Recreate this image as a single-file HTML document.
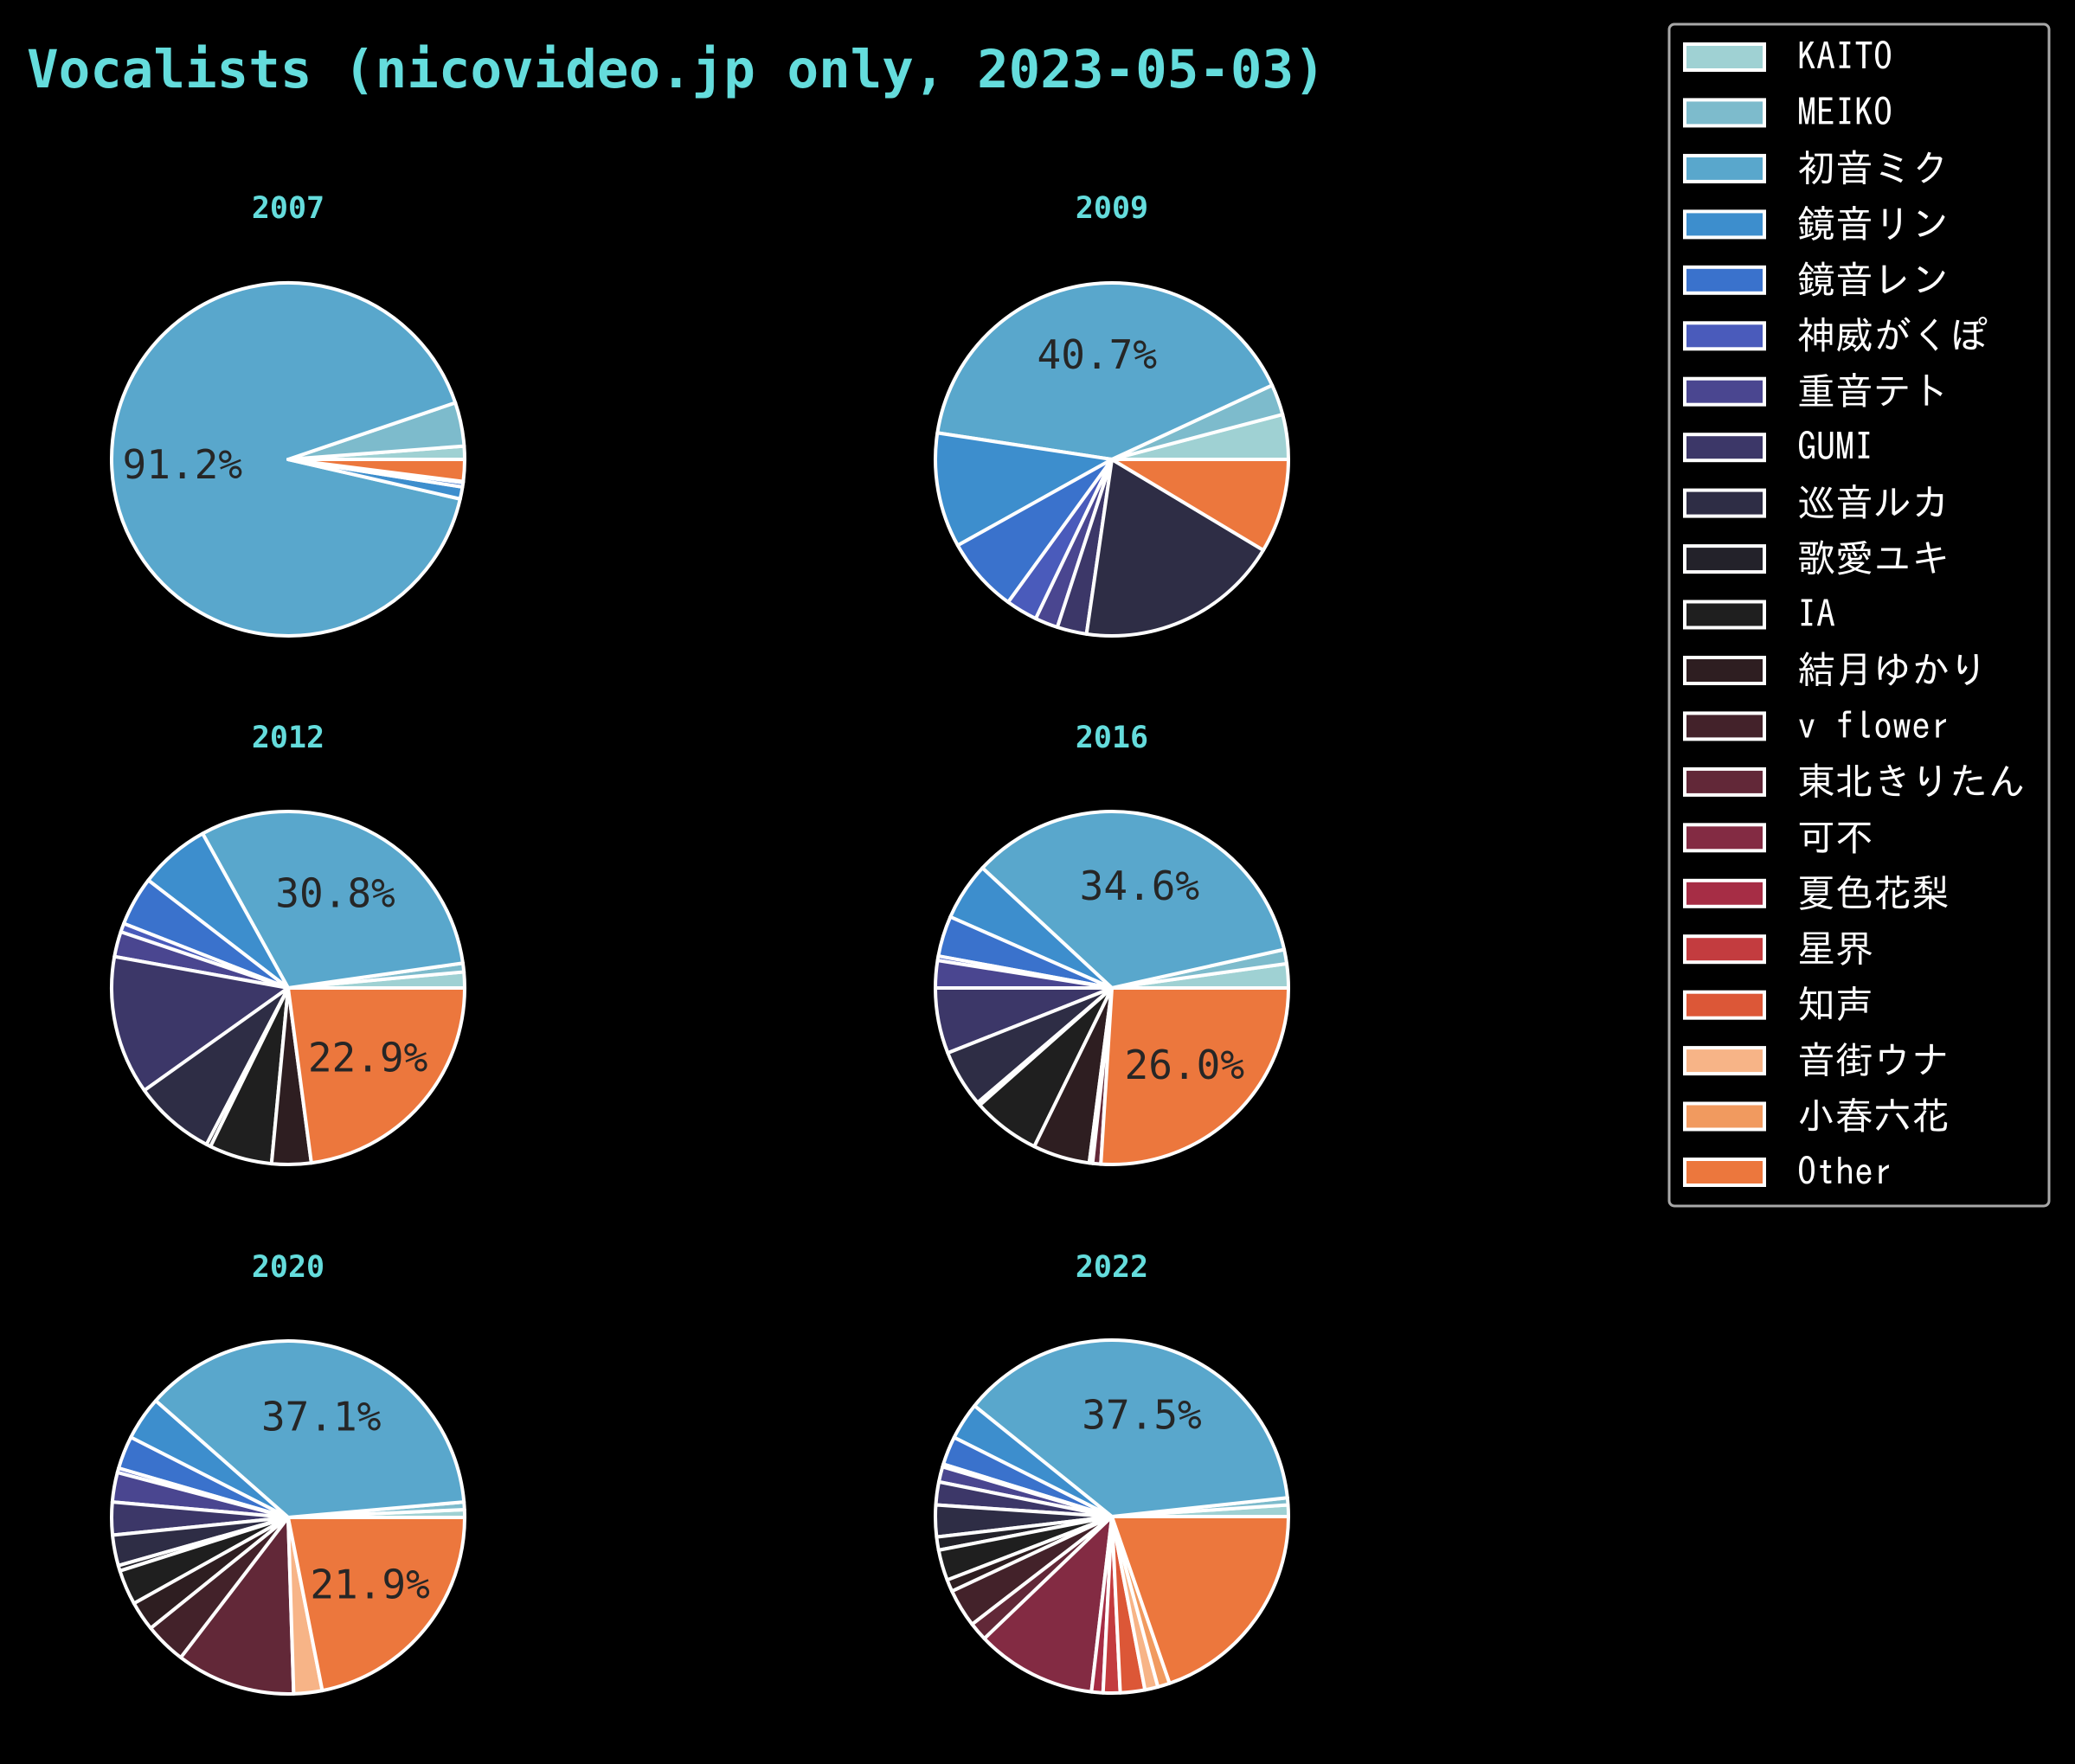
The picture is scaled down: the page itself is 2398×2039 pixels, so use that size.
<!DOCTYPE html>
<html><head><meta charset="utf-8">
<style>
html,body{margin:0;padding:0;background:#000;}
svg{display:block;}
</style></head>
<body>
<svg id="chart" xmlns="http://www.w3.org/2000/svg" width="2398" height="2039" viewBox="0 0 2398 2039">
<rect x="0" y="0" width="2398" height="2039" fill="#000"/>
<text x="31" y="101" font-family="DejaVu Sans Mono, Liberation Mono, monospace" font-weight="bold" font-size="60.8" fill="#64dcdc">Vocalists (nicovideo.jp only, 2023-05-03)</text>
<g id="pies"></g>
<g id="legend"></g>
</svg>
<script>
const vocalists = ["KAITO","MEIKO","初音ミク","鏡音リン","鏡音レン","神威がくぽ","重音テト","GUMI","巡音ルカ","歌愛ユキ","IA","結月ゆかり","v flower","東北きりたん","可不","夏色花梨","星界","知声","音街ウナ","小春六花","Other"];
const colors = ["#9fd1d3","#7dbbcc","#59a7cc","#3d8ecd","#3a72cc","#4a5bbb","#4a4690","#3c3768","#2e2d45","#23222a","#1f1f1f","#2e1e21","#43222a","#622838","#832b43","#a62d45","#c33c3f","#dc5737","#f7b487","#f19a5f","#ec773d"];
const years = ["2007","2009","2012","2016","2020","2022"];
const share2007 = [1.2,4.0,91.2,1.1,0.4,0.1,0,0,0,0,0,0,0,0,0,0,0,0,0,0,2.0];
const share2009 = [4.1,2.8,40.7,10.5,6.9,2.9,2.1,2.7,18.7,0,0,0,0,0,0,0,0,0,0,0,8.6];
const share2012 = [1.45,0.8,30.8,6.5,4.5,0.8,2.3,12.7,7.5,0.4,5.75,3.6,0,0,0,0,0,0,0,0,22.9];
const share2016 = [2.2,1.3,34.6,5.3,3.7,0.4,2.5,6.0,5.25,0.3,6.2,5.2,0.3,0.75,0,0,0,0,0,0,26.0];
const share2020 = [0.7,0.7,37.1,4.0,3.0,0.4,2.7,3.0,2.8,0.5,3.2,2.7,3.8,10.9,0,0,0,0,2.6,0,21.9];
const share2022 = [1.05,0.65,37.5,3.4,2.6,0.25,1.4,2.1,2.9,1.2,2.8,1.1,3.5,1.7,11.0,1.05,1.55,2.25,1.2,1.1,19.7];
const shares = [share2007,share2009,share2012,share2016,share2020,share2022];
const labelThreshold = 20;

const NS = "http://www.w3.org/2000/svg";
const pies = document.getElementById('pies');
const centers = [[333,531],[1285,531],[333,1142],[1285,1142],[333,1754],[1285,1753]];
const R = 204;
function pt(cx, cy, r, deg){ const a = deg*Math.PI/180; return [cx + r*Math.cos(a), cy - r*Math.sin(a)]; }

years.forEach((yr, yi) => {
  const [cx, cy] = centers[yi];
  const vals = shares[yi];
  const total = vals.reduce((a,b)=>a+b,0);
  const g = document.createElementNS(NS,'g');
  
  
  pies.appendChild(g);
  const t = document.createElementNS(NS,'text');
  t.setAttribute('x', cx); t.setAttribute('y', 252);
  if (yi >= 2) t.setAttribute('y', yi >= 4 ? 1476 : 864);
  t.setAttribute('text-anchor','middle');
  t.setAttribute('font-family','DejaVu Sans Mono, Liberation Mono, monospace');
  t.setAttribute('font-weight','bold');
  t.setAttribute('font-size','35');
  t.setAttribute('fill','#64dcdc');
  t.textContent = yr;
  
  
  g.appendChild(t);
  let start = 0;
  const labels = [];
  vals.forEach((v, i) => {
    if (v <= 0) return;
    const sweep = v / total * 360;
    const end = start + sweep;
    const p1 = pt(cx, cy, R, start), p2 = pt(cx, cy, R, end);
    const large = sweep > 180 ? 1 : 0;
    const path = document.createElementNS(NS,'path');
    path.setAttribute('d', `M${cx},${cy} L${p1[0].toFixed(2)},${p1[1].toFixed(2)} A${R},${R} 0 ${large} 0 ${p2[0].toFixed(2)},${p2[1].toFixed(2)} Z`);
    path.setAttribute('fill', colors[i]);
    path.setAttribute('stroke', '#fff');
    path.setAttribute('stroke-width', '4');
    path.setAttribute('stroke-linejoin', 'round');
    
    
    g.appendChild(path);
    const pct = v / total * 100;
    if (pct > labelThreshold) {
      const lp = pt(cx, cy, R*0.6, start + sweep/2);
      labels.push([lp, pct.toFixed(1) + '%', i]);
    }
    start = end;
  });
  labels.forEach(([lp, txt, i]) => {
    const l = document.createElementNS(NS,'text');
    l.setAttribute('x', lp[0].toFixed(1));
    l.setAttribute('y', (lp[1] + 16).toFixed(1));
    l.setAttribute('text-anchor','middle');
    l.setAttribute('font-family','DejaVu Sans Mono, Liberation Mono, monospace');
    l.setAttribute('font-size','46');
    l.setAttribute('fill','#262626');
    l.textContent = txt;
    
    
    g.appendChild(l);
  });
});

const legend = document.getElementById('legend');
const box = document.createElementNS(NS,'rect');
box.setAttribute('x', 1929); box.setAttribute('y', 28);
box.setAttribute('width', 439); box.setAttribute('height', 1366);
box.setAttribute('rx', 6);
box.setAttribute('fill', '#000'); box.setAttribute('stroke', '#a8a8a8'); box.setAttribute('stroke-width', '3');


legend.appendChild(box);
vocalists.forEach((name, i) => {
  const cy = 66 + i * 64.45;
  const sw = document.createElementNS(NS,'rect');
  sw.setAttribute('x', 1947); sw.setAttribute('y', (cy - 15).toFixed(1));
  sw.setAttribute('width', 92); sw.setAttribute('height', 30);
  sw.setAttribute('fill', colors[i]); sw.setAttribute('stroke', '#fff'); sw.setAttribute('stroke-width', '4');
  
  
  legend.appendChild(sw);
  const tx = document.createElementNS(NS,'text');
  tx.setAttribute('x', 2077); tx.setAttribute('y', (cy + 15).toFixed(1));
  tx.setAttribute('font-family', 'IPAGothic, "Noto Sans CJK JP", monospace');
  tx.setAttribute('font-size', '44');
  tx.setAttribute('fill', '#fff');
  tx.textContent = name;
  
  
  legend.appendChild(tx);
});
</script>
</body></html>
